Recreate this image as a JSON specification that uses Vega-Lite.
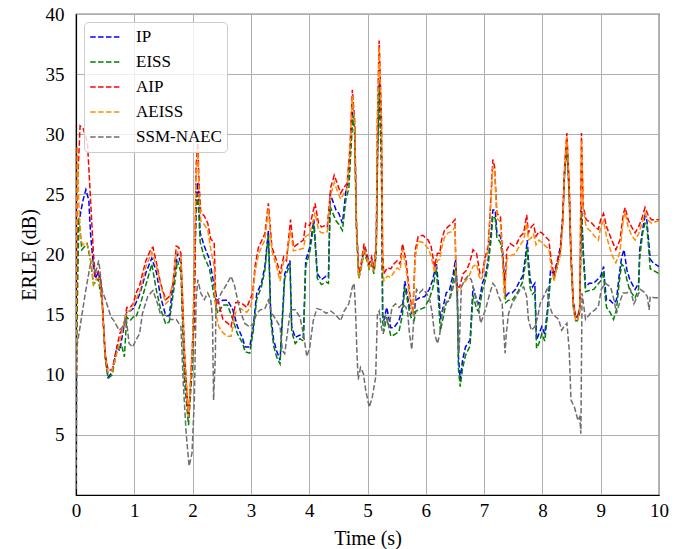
{
"$schema":"https://vega.github.io/schema/vega-lite/v6.json",
"width":583,"height":481,
"autosize":{"type":"none"},
"padding":{"left":76,"top":14,"right":20,"bottom":54},
"background":"white",
"data":{"values":[
{"s":"IP","t":0,"v":10},{"s":"IP","t":0.03,"v":22},{"s":"IP","t":0.08,"v":23.5},{"s":"IP","t":0.12,"v":24.5},{"s":"IP","t":0.17,"v":25.4},{"s":"IP","t":0.22,"v":24.5},{"s":"IP","t":0.25,"v":21.7},{"s":"IP","t":0.3,"v":19},{"s":"IP","t":0.33,"v":18},{"s":"IP","t":0.38,"v":18.5},{"s":"IP","t":0.42,"v":17.8},{"s":"IP","t":0.45,"v":16},{"s":"IP","t":0.5,"v":11.5},{"s":"IP","t":0.55,"v":9.8},{"s":"IP","t":0.62,"v":10.2},{"s":"IP","t":0.7,"v":12.3},{"s":"IP","t":0.75,"v":12},{"s":"IP","t":0.8,"v":13.4},{"s":"IP","t":0.87,"v":15.2},{"s":"IP","t":0.93,"v":15.3},{"s":"IP","t":0.98,"v":15.5},{"s":"IP","t":1.03,"v":16},{"s":"IP","t":1.1,"v":16.8},{"s":"IP","t":1.2,"v":18.5},{"s":"IP","t":1.3,"v":19.7},{"s":"IP","t":1.38,"v":18.5},{"s":"IP","t":1.45,"v":16.5},{"s":"IP","t":1.54,"v":14.9},{"s":"IP","t":1.6,"v":14.9},{"s":"IP","t":1.69,"v":18.5},{"s":"IP","t":1.74,"v":20.1},{"s":"IP","t":1.8,"v":19.3},{"s":"IP","t":1.86,"v":10.7},{"s":"IP","t":1.93,"v":6.5},{"s":"IP","t":2,"v":11.8},{"s":"IP","t":2.06,"v":24.6},{"s":"IP","t":2.09,"v":26},{"s":"IP","t":2.13,"v":21.8},{"s":"IP","t":2.2,"v":20.7},{"s":"IP","t":2.29,"v":19.6},{"s":"IP","t":2.37,"v":17.4},{"s":"IP","t":2.43,"v":16},{"s":"IP","t":2.52,"v":16.2},{"s":"IP","t":2.6,"v":16.2},{"s":"IP","t":2.69,"v":15.4},{"s":"IP","t":2.77,"v":14},{"s":"IP","t":2.86,"v":13},{"s":"IP","t":2.9,"v":12.3},{"s":"IP","t":2.98,"v":12.3},{"s":"IP","t":3.04,"v":14},{"s":"IP","t":3.1,"v":16.75},{"s":"IP","t":3.18,"v":17.6},{"s":"IP","t":3.24,"v":19},{"s":"IP","t":3.3,"v":22},{"s":"IP","t":3.34,"v":15.1},{"s":"IP","t":3.39,"v":12.9},{"s":"IP","t":3.44,"v":12},{"s":"IP","t":3.5,"v":11.2},{"s":"IP","t":3.58,"v":18.4},{"s":"IP","t":3.67,"v":19.5},{"s":"IP","t":3.7,"v":14},{"s":"IP","t":3.76,"v":13.1},{"s":"IP","t":3.84,"v":13.3},{"s":"IP","t":3.9,"v":13.1},{"s":"IP","t":3.94,"v":19.5},{"s":"IP","t":4.01,"v":20.6},{"s":"IP","t":4.08,"v":22.9},{"s":"IP","t":4.14,"v":18.4},{"s":"IP","t":4.21,"v":17.9},{"s":"IP","t":4.29,"v":18.2},{"s":"IP","t":4.33,"v":18.1},{"s":"IP","t":4.36,"v":25},{"s":"IP","t":4.4,"v":24.5},{"s":"IP","t":4.46,"v":23.7},{"s":"IP","t":4.51,"v":23.4},{"s":"IP","t":4.57,"v":22.6},{"s":"IP","t":4.63,"v":25.3},{"s":"IP","t":4.68,"v":26.2},{"s":"IP","t":4.71,"v":28.9},{"s":"IP","t":4.75,"v":32.3},{"s":"IP","t":4.78,"v":30.6},{"s":"IP","t":4.81,"v":22.5},{"s":"IP","t":4.85,"v":18.3},{"s":"IP","t":4.89,"v":19},{"s":"IP","t":4.94,"v":20.5},{"s":"IP","t":4.99,"v":19.8},{"s":"IP","t":5.03,"v":19},{"s":"IP","t":5.07,"v":19.5},{"s":"IP","t":5.11,"v":18.7},{"s":"IP","t":5.15,"v":20.5},{"s":"IP","t":5.17,"v":28},{"s":"IP","t":5.2,"v":34.5},{"s":"IP","t":5.24,"v":28},{"s":"IP","t":5.26,"v":15},{"s":"IP","t":5.28,"v":14.5},{"s":"IP","t":5.33,"v":15.6},{"s":"IP","t":5.4,"v":13.9},{"s":"IP","t":5.45,"v":13.9},{"s":"IP","t":5.54,"v":14.5},{"s":"IP","t":5.6,"v":15.6},{"s":"IP","t":5.64,"v":17.8},{"s":"IP","t":5.68,"v":16.7},{"s":"IP","t":5.72,"v":15.6},{"s":"IP","t":5.76,"v":15.1},{"s":"IP","t":5.8,"v":15.3},{"s":"IP","t":5.83,"v":16.2},{"s":"IP","t":5.89,"v":16.4},{"s":"IP","t":5.98,"v":16.5},{"s":"IP","t":6.06,"v":17.1},{"s":"IP","t":6.12,"v":17.9},{"s":"IP","t":6.18,"v":19.3},{"s":"IP","t":6.22,"v":17.3},{"s":"IP","t":6.25,"v":14.6},{"s":"IP","t":6.3,"v":15.7},{"s":"IP","t":6.35,"v":16.8},{"s":"IP","t":6.41,"v":17.1},{"s":"IP","t":6.47,"v":18.4},{"s":"IP","t":6.51,"v":19.6},{"s":"IP","t":6.54,"v":17.3},{"s":"IP","t":6.56,"v":11.5},{"s":"IP","t":6.59,"v":9.6},{"s":"IP","t":6.63,"v":11.2},{"s":"IP","t":6.68,"v":12.3},{"s":"IP","t":6.72,"v":12.6},{"s":"IP","t":6.76,"v":12.9},{"s":"IP","t":6.81,"v":17.3},{"s":"IP","t":6.87,"v":16.2},{"s":"IP","t":6.91,"v":15.9},{"s":"IP","t":6.97,"v":17.6},{"s":"IP","t":7.03,"v":18.4},{"s":"IP","t":7.07,"v":19.6},{"s":"IP","t":7.12,"v":21.8},{"s":"IP","t":7.15,"v":23.7},{"s":"IP","t":7.19,"v":23.7},{"s":"IP","t":7.22,"v":21.8},{"s":"IP","t":7.28,"v":21.5},{"s":"IP","t":7.32,"v":20.1},{"s":"IP","t":7.37,"v":16.5},{"s":"IP","t":7.42,"v":16.8},{"s":"IP","t":7.48,"v":16.8},{"s":"IP","t":7.54,"v":17.1},{"s":"IP","t":7.59,"v":17.6},{"s":"IP","t":7.66,"v":18.2},{"s":"IP","t":7.71,"v":19.8},{"s":"IP","t":7.74,"v":21.2},{"s":"IP","t":7.76,"v":19.6},{"s":"IP","t":7.79,"v":17.9},{"s":"IP","t":7.83,"v":17.3},{"s":"IP","t":7.87,"v":17.6},{"s":"IP","t":7.9,"v":12.9},{"s":"IP","t":7.94,"v":13.4},{"s":"IP","t":7.99,"v":14},{"s":"IP","t":8.04,"v":13.4},{"s":"IP","t":8.08,"v":15.1},{"s":"IP","t":8.14,"v":18.7},{"s":"IP","t":8.19,"v":18.4},{"s":"IP","t":8.25,"v":19.3},{"s":"IP","t":8.31,"v":20.7},{"s":"IP","t":8.35,"v":23.2},{"s":"IP","t":8.38,"v":26.8},{"s":"IP","t":8.42,"v":29.3},{"s":"IP","t":8.46,"v":25.1},{"s":"IP","t":8.49,"v":19.8},{"s":"IP","t":8.53,"v":15.9},{"s":"IP","t":8.57,"v":14.8},{"s":"IP","t":8.6,"v":14.8},{"s":"IP","t":8.64,"v":15.5},{"s":"IP","t":8.67,"v":24},{"s":"IP","t":8.7,"v":20.4},{"s":"IP","t":8.74,"v":17.3},{"s":"IP","t":8.8,"v":17.6},{"s":"IP","t":8.88,"v":17.6},{"s":"IP","t":9,"v":18.2},{"s":"IP","t":9.05,"v":19},{"s":"IP","t":9.07,"v":17.6},{"s":"IP","t":9.1,"v":16.2},{"s":"IP","t":9.16,"v":16.2},{"s":"IP","t":9.22,"v":15.9},{"s":"IP","t":9.27,"v":16.2},{"s":"IP","t":9.32,"v":18.4},{"s":"IP","t":9.36,"v":19.8},{"s":"IP","t":9.4,"v":20.4},{"s":"IP","t":9.45,"v":18.7},{"s":"IP","t":9.5,"v":17.9},{"s":"IP","t":9.59,"v":17.1},{"s":"IP","t":9.65,"v":17.6},{"s":"IP","t":9.67,"v":20.4},{"s":"IP","t":9.72,"v":22.1},{"s":"IP","t":9.76,"v":23.2},{"s":"IP","t":9.79,"v":22.9},{"s":"IP","t":9.85,"v":19.6},{"s":"IP","t":9.9,"v":19.3},{"s":"IP","t":10,"v":19},
{"s":"EISS","t":0,"v":10},{"s":"EISS","t":0.05,"v":23.1},{"s":"EISS","t":0.1,"v":20.4},{"s":"EISS","t":0.19,"v":20.9},{"s":"EISS","t":0.25,"v":19.5},{"s":"EISS","t":0.3,"v":17.5},{"s":"EISS","t":0.38,"v":18},{"s":"EISS","t":0.45,"v":16},{"s":"EISS","t":0.5,"v":11.5},{"s":"EISS","t":0.55,"v":9.7},{"s":"EISS","t":0.62,"v":10},{"s":"EISS","t":0.7,"v":12},{"s":"EISS","t":0.78,"v":12.5},{"s":"EISS","t":0.83,"v":11.5},{"s":"EISS","t":0.87,"v":14.8},{"s":"EISS","t":0.93,"v":14.5},{"s":"EISS","t":0.98,"v":14.8},{"s":"EISS","t":1.03,"v":14.8},{"s":"EISS","t":1.1,"v":15.8},{"s":"EISS","t":1.2,"v":17.5},{"s":"EISS","t":1.3,"v":19.2},{"s":"EISS","t":1.38,"v":17},{"s":"EISS","t":1.45,"v":15.5},{"s":"EISS","t":1.54,"v":14.2},{"s":"EISS","t":1.6,"v":14.4},{"s":"EISS","t":1.69,"v":17.5},{"s":"EISS","t":1.74,"v":19.5},{"s":"EISS","t":1.8,"v":18.5},{"s":"EISS","t":1.86,"v":9.5},{"s":"EISS","t":1.93,"v":5.8},{"s":"EISS","t":2,"v":11},{"s":"EISS","t":2.06,"v":23.5},{"s":"EISS","t":2.09,"v":25},{"s":"EISS","t":2.13,"v":21},{"s":"EISS","t":2.2,"v":19.8},{"s":"EISS","t":2.29,"v":18.8},{"s":"EISS","t":2.37,"v":16.5},{"s":"EISS","t":2.43,"v":15.1},{"s":"EISS","t":2.52,"v":15.8},{"s":"EISS","t":2.6,"v":15.8},{"s":"EISS","t":2.69,"v":14.6},{"s":"EISS","t":2.77,"v":13.4},{"s":"EISS","t":2.86,"v":12.6},{"s":"EISS","t":2.9,"v":11.9},{"s":"EISS","t":2.98,"v":11.8},{"s":"EISS","t":3.04,"v":13.6},{"s":"EISS","t":3.1,"v":16.3},{"s":"EISS","t":3.18,"v":17.3},{"s":"EISS","t":3.24,"v":18.7},{"s":"EISS","t":3.3,"v":21.7},{"s":"EISS","t":3.34,"v":14.6},{"s":"EISS","t":3.39,"v":12.4},{"s":"EISS","t":3.44,"v":11.5},{"s":"EISS","t":3.5,"v":10.9},{"s":"EISS","t":3.58,"v":18},{"s":"EISS","t":3.67,"v":19.2},{"s":"EISS","t":3.7,"v":13.6},{"s":"EISS","t":3.76,"v":12.6},{"s":"EISS","t":3.84,"v":13},{"s":"EISS","t":3.9,"v":12.8},{"s":"EISS","t":3.94,"v":19},{"s":"EISS","t":4.01,"v":20.2},{"s":"EISS","t":4.08,"v":22.5},{"s":"EISS","t":4.14,"v":18},{"s":"EISS","t":4.21,"v":17.5},{"s":"EISS","t":4.29,"v":17.7},{"s":"EISS","t":4.33,"v":17.6},{"s":"EISS","t":4.36,"v":24},{"s":"EISS","t":4.4,"v":23.5},{"s":"EISS","t":4.46,"v":22.8},{"s":"EISS","t":4.51,"v":22.5},{"s":"EISS","t":4.57,"v":22},{"s":"EISS","t":4.63,"v":24.6},{"s":"EISS","t":4.68,"v":25.5},{"s":"EISS","t":4.71,"v":28.2},{"s":"EISS","t":4.75,"v":31.6},{"s":"EISS","t":4.78,"v":30},{"s":"EISS","t":4.81,"v":22},{"s":"EISS","t":4.85,"v":18},{"s":"EISS","t":4.89,"v":18.8},{"s":"EISS","t":4.94,"v":20.2},{"s":"EISS","t":4.99,"v":19.5},{"s":"EISS","t":5.03,"v":18.8},{"s":"EISS","t":5.07,"v":19.2},{"s":"EISS","t":5.11,"v":18.4},{"s":"EISS","t":5.15,"v":20},{"s":"EISS","t":5.17,"v":27},{"s":"EISS","t":5.2,"v":34},{"s":"EISS","t":5.24,"v":27},{"s":"EISS","t":5.26,"v":14.5},{"s":"EISS","t":5.28,"v":13.6},{"s":"EISS","t":5.33,"v":14.8},{"s":"EISS","t":5.4,"v":13.2},{"s":"EISS","t":5.45,"v":13.3},{"s":"EISS","t":5.54,"v":13.6},{"s":"EISS","t":5.6,"v":15},{"s":"EISS","t":5.64,"v":17.3},{"s":"EISS","t":5.68,"v":16.3},{"s":"EISS","t":5.72,"v":15.2},{"s":"EISS","t":5.76,"v":14.6},{"s":"EISS","t":5.8,"v":14.5},{"s":"EISS","t":5.83,"v":15.3},{"s":"EISS","t":5.89,"v":15.4},{"s":"EISS","t":5.98,"v":15.6},{"s":"EISS","t":6.06,"v":16.3},{"s":"EISS","t":6.12,"v":17.2},{"s":"EISS","t":6.18,"v":18.8},{"s":"EISS","t":6.22,"v":16},{"s":"EISS","t":6.25,"v":13.6},{"s":"EISS","t":6.3,"v":14.8},{"s":"EISS","t":6.35,"v":16},{"s":"EISS","t":6.41,"v":16.4},{"s":"EISS","t":6.47,"v":17.8},{"s":"EISS","t":6.51,"v":19},{"s":"EISS","t":6.54,"v":16.5},{"s":"EISS","t":6.56,"v":10.5},{"s":"EISS","t":6.59,"v":9},{"s":"EISS","t":6.63,"v":10.5},{"s":"EISS","t":6.68,"v":11.6},{"s":"EISS","t":6.72,"v":12},{"s":"EISS","t":6.76,"v":12.4},{"s":"EISS","t":6.81,"v":16.6},{"s":"EISS","t":6.87,"v":15.5},{"s":"EISS","t":6.91,"v":15.2},{"s":"EISS","t":6.97,"v":17},{"s":"EISS","t":7.03,"v":18},{"s":"EISS","t":7.07,"v":19.2},{"s":"EISS","t":7.12,"v":21.2},{"s":"EISS","t":7.15,"v":23.2},{"s":"EISS","t":7.19,"v":23},{"s":"EISS","t":7.22,"v":21.4},{"s":"EISS","t":7.28,"v":21},{"s":"EISS","t":7.32,"v":19.6},{"s":"EISS","t":7.37,"v":16},{"s":"EISS","t":7.42,"v":16.2},{"s":"EISS","t":7.48,"v":16.2},{"s":"EISS","t":7.54,"v":16.6},{"s":"EISS","t":7.59,"v":17},{"s":"EISS","t":7.66,"v":17.7},{"s":"EISS","t":7.71,"v":19.3},{"s":"EISS","t":7.74,"v":20.6},{"s":"EISS","t":7.76,"v":18.8},{"s":"EISS","t":7.79,"v":17.2},{"s":"EISS","t":7.83,"v":16.7},{"s":"EISS","t":7.87,"v":16.9},{"s":"EISS","t":7.9,"v":12.2},{"s":"EISS","t":7.94,"v":12.6},{"s":"EISS","t":7.99,"v":13.4},{"s":"EISS","t":8.04,"v":12.8},{"s":"EISS","t":8.08,"v":14.6},{"s":"EISS","t":8.14,"v":18},{"s":"EISS","t":8.19,"v":17.9},{"s":"EISS","t":8.25,"v":18.9},{"s":"EISS","t":8.31,"v":20.3},{"s":"EISS","t":8.35,"v":22.8},{"s":"EISS","t":8.38,"v":26.5},{"s":"EISS","t":8.42,"v":29},{"s":"EISS","t":8.46,"v":24.8},{"s":"EISS","t":8.49,"v":19.5},{"s":"EISS","t":8.53,"v":15.6},{"s":"EISS","t":8.57,"v":14.5},{"s":"EISS","t":8.6,"v":14.5},{"s":"EISS","t":8.64,"v":15.2},{"s":"EISS","t":8.67,"v":23.5},{"s":"EISS","t":8.7,"v":19.8},{"s":"EISS","t":8.74,"v":16.9},{"s":"EISS","t":8.8,"v":17},{"s":"EISS","t":8.88,"v":17.1},{"s":"EISS","t":9,"v":17.8},{"s":"EISS","t":9.05,"v":18.6},{"s":"EISS","t":9.07,"v":16.8},{"s":"EISS","t":9.1,"v":15.6},{"s":"EISS","t":9.16,"v":15.2},{"s":"EISS","t":9.22,"v":14.6},{"s":"EISS","t":9.27,"v":15.4},{"s":"EISS","t":9.32,"v":17.8},{"s":"EISS","t":9.36,"v":19.2},{"s":"EISS","t":9.4,"v":19},{"s":"EISS","t":9.45,"v":17.9},{"s":"EISS","t":9.5,"v":17},{"s":"EISS","t":9.59,"v":16.4},{"s":"EISS","t":9.65,"v":17.1},{"s":"EISS","t":9.67,"v":19.8},{"s":"EISS","t":9.72,"v":21.8},{"s":"EISS","t":9.76,"v":22.6},{"s":"EISS","t":9.79,"v":22.5},{"s":"EISS","t":9.85,"v":18.8},{"s":"EISS","t":9.9,"v":18.7},{"s":"EISS","t":10,"v":18.4},
{"s":"AIP","t":0,"v":10},{"s":"AIP","t":0.02,"v":25},{"s":"AIP","t":0.07,"v":30.7},{"s":"AIP","t":0.12,"v":30.5},{"s":"AIP","t":0.17,"v":29.8},{"s":"AIP","t":0.2,"v":29},{"s":"AIP","t":0.25,"v":24.5},{"s":"AIP","t":0.3,"v":20},{"s":"AIP","t":0.33,"v":18.3},{"s":"AIP","t":0.38,"v":18.6},{"s":"AIP","t":0.42,"v":17.9},{"s":"AIP","t":0.45,"v":16.2},{"s":"AIP","t":0.5,"v":11.8},{"s":"AIP","t":0.55,"v":10.4},{"s":"AIP","t":0.62,"v":10.4},{"s":"AIP","t":0.68,"v":11.8},{"s":"AIP","t":0.75,"v":13.4},{"s":"AIP","t":0.82,"v":14},{"s":"AIP","t":0.87,"v":15.6},{"s":"AIP","t":0.93,"v":15.6},{"s":"AIP","t":0.98,"v":15.9},{"s":"AIP","t":1.03,"v":16.8},{"s":"AIP","t":1.09,"v":17.4},{"s":"AIP","t":1.14,"v":18.4},{"s":"AIP","t":1.2,"v":19.5},{"s":"AIP","t":1.29,"v":20.5},{"s":"AIP","t":1.32,"v":20.6},{"s":"AIP","t":1.38,"v":19.3},{"s":"AIP","t":1.45,"v":17.6},{"s":"AIP","t":1.54,"v":16.25},{"s":"AIP","t":1.6,"v":16.5},{"s":"AIP","t":1.66,"v":17.4},{"s":"AIP","t":1.72,"v":20.7},{"s":"AIP","t":1.76,"v":20.6},{"s":"AIP","t":1.8,"v":20.1},{"s":"AIP","t":1.83,"v":16.25},{"s":"AIP","t":1.86,"v":12.1},{"s":"AIP","t":1.92,"v":7.1},{"s":"AIP","t":1.94,"v":6.8},{"s":"AIP","t":2,"v":12.9},{"s":"AIP","t":2.03,"v":14},{"s":"AIP","t":2.06,"v":27.4},{"s":"AIP","t":2.09,"v":29.3},{"s":"AIP","t":2.11,"v":26},{"s":"AIP","t":2.14,"v":23.5},{"s":"AIP","t":2.2,"v":23.2},{"s":"AIP","t":2.26,"v":22.6},{"s":"AIP","t":2.31,"v":21.3},{"s":"AIP","t":2.37,"v":21},{"s":"AIP","t":2.4,"v":15.7},{"s":"AIP","t":2.43,"v":16.3},{"s":"AIP","t":2.52,"v":14.6},{"s":"AIP","t":2.6,"v":14.3},{"s":"AIP","t":2.66,"v":14},{"s":"AIP","t":2.74,"v":16},{"s":"AIP","t":2.83,"v":16},{"s":"AIP","t":2.93,"v":15.6},{"s":"AIP","t":2.98,"v":16.2},{"s":"AIP","t":3.03,"v":16.75},{"s":"AIP","t":3.07,"v":19},{"s":"AIP","t":3.13,"v":20.6},{"s":"AIP","t":3.18,"v":21.1},{"s":"AIP","t":3.24,"v":21.75},{"s":"AIP","t":3.3,"v":24.25},{"s":"AIP","t":3.36,"v":20.6},{"s":"AIP","t":3.44,"v":19.5},{"s":"AIP","t":3.5,"v":18.4},{"s":"AIP","t":3.56,"v":19.8},{"s":"AIP","t":3.61,"v":19.5},{"s":"AIP","t":3.68,"v":22.9},{"s":"AIP","t":3.73,"v":20.6},{"s":"AIP","t":3.81,"v":20.9},{"s":"AIP","t":3.9,"v":21.2},{"s":"AIP","t":3.94,"v":22.6},{"s":"AIP","t":4.01,"v":22.4},{"s":"AIP","t":4.1,"v":24.25},{"s":"AIP","t":4.16,"v":22.6},{"s":"AIP","t":4.21,"v":22.3},{"s":"AIP","t":4.27,"v":22.4},{"s":"AIP","t":4.31,"v":22.3},{"s":"AIP","t":4.37,"v":25.6},{"s":"AIP","t":4.43,"v":26.6},{"s":"AIP","t":4.48,"v":25.9},{"s":"AIP","t":4.54,"v":25.1},{"s":"AIP","t":4.6,"v":25.6},{"s":"AIP","t":4.65,"v":25.9},{"s":"AIP","t":4.7,"v":28.9},{"s":"AIP","t":4.74,"v":33.7},{"s":"AIP","t":4.78,"v":31.2},{"s":"AIP","t":4.81,"v":22.8},{"s":"AIP","t":4.85,"v":18.4},{"s":"AIP","t":4.89,"v":19.2},{"s":"AIP","t":4.94,"v":20.9},{"s":"AIP","t":4.99,"v":20.1},{"s":"AIP","t":5.03,"v":19.2},{"s":"AIP","t":5.07,"v":19.8},{"s":"AIP","t":5.11,"v":18.9},{"s":"AIP","t":5.15,"v":20.9},{"s":"AIP","t":5.17,"v":31.2},{"s":"AIP","t":5.2,"v":37.8},{"s":"AIP","t":5.24,"v":31.2},{"s":"AIP","t":5.26,"v":20.1},{"s":"AIP","t":5.28,"v":18.4},{"s":"AIP","t":5.34,"v":18.9},{"s":"AIP","t":5.4,"v":18.8},{"s":"AIP","t":5.45,"v":19.2},{"s":"AIP","t":5.51,"v":19.5},{"s":"AIP","t":5.56,"v":19.2},{"s":"AIP","t":5.6,"v":20.9},{"s":"AIP","t":5.66,"v":19.5},{"s":"AIP","t":5.71,"v":17.3},{"s":"AIP","t":5.75,"v":15.8},{"s":"AIP","t":5.78,"v":15.4},{"s":"AIP","t":5.82,"v":20.4},{"s":"AIP","t":5.87,"v":21.5},{"s":"AIP","t":5.95,"v":21.6},{"s":"AIP","t":6.04,"v":21.2},{"s":"AIP","t":6.09,"v":20.7},{"s":"AIP","t":6.15,"v":19},{"s":"AIP","t":6.2,"v":20.1},{"s":"AIP","t":6.24,"v":20.1},{"s":"AIP","t":6.27,"v":21.2},{"s":"AIP","t":6.32,"v":22},{"s":"AIP","t":6.38,"v":22.3},{"s":"AIP","t":6.45,"v":22.6},{"s":"AIP","t":6.5,"v":22.9},{"s":"AIP","t":6.52,"v":17.9},{"s":"AIP","t":6.55,"v":17.3},{"s":"AIP","t":6.58,"v":17.3},{"s":"AIP","t":6.64,"v":18.4},{"s":"AIP","t":6.7,"v":18.7},{"s":"AIP","t":6.75,"v":19.3},{"s":"AIP","t":6.81,"v":20.4},{"s":"AIP","t":6.87,"v":20.1},{"s":"AIP","t":6.93,"v":18.4},{"s":"AIP","t":6.97,"v":18.4},{"s":"AIP","t":7.01,"v":19.6},{"s":"AIP","t":7.07,"v":20.7},{"s":"AIP","t":7.1,"v":23.2},{"s":"AIP","t":7.15,"v":27.9},{"s":"AIP","t":7.18,"v":27.3},{"s":"AIP","t":7.22,"v":23.4},{"s":"AIP","t":7.28,"v":23.2},{"s":"AIP","t":7.32,"v":19.8},{"s":"AIP","t":7.35,"v":16.8},{"s":"AIP","t":7.39,"v":20.4},{"s":"AIP","t":7.45,"v":20.9},{"s":"AIP","t":7.51,"v":20.7},{"s":"AIP","t":7.56,"v":20.9},{"s":"AIP","t":7.62,"v":21.5},{"s":"AIP","t":7.68,"v":21.8},{"s":"AIP","t":7.73,"v":23.3},{"s":"AIP","t":7.76,"v":21.8},{"s":"AIP","t":7.81,"v":22.3},{"s":"AIP","t":7.85,"v":22.5},{"s":"AIP","t":7.89,"v":21.5},{"s":"AIP","t":7.94,"v":21.9},{"s":"AIP","t":7.99,"v":21.8},{"s":"AIP","t":8.05,"v":21.5},{"s":"AIP","t":8.11,"v":21.2},{"s":"AIP","t":8.15,"v":19.6},{"s":"AIP","t":8.2,"v":18.2},{"s":"AIP","t":8.25,"v":19.3},{"s":"AIP","t":8.31,"v":20.4},{"s":"AIP","t":8.35,"v":23.2},{"s":"AIP","t":8.38,"v":27.3},{"s":"AIP","t":8.42,"v":30.1},{"s":"AIP","t":8.46,"v":25.9},{"s":"AIP","t":8.49,"v":20.4},{"s":"AIP","t":8.53,"v":16.2},{"s":"AIP","t":8.57,"v":14.8},{"s":"AIP","t":8.6,"v":14.8},{"s":"AIP","t":8.64,"v":15.5},{"s":"AIP","t":8.67,"v":30.1},{"s":"AIP","t":8.7,"v":24},{"s":"AIP","t":8.75,"v":22.9},{"s":"AIP","t":8.85,"v":22.6},{"s":"AIP","t":8.9,"v":22.3},{"s":"AIP","t":8.96,"v":22.1},{"s":"AIP","t":9,"v":22.9},{"s":"AIP","t":9.05,"v":23.4},{"s":"AIP","t":9.1,"v":22.3},{"s":"AIP","t":9.19,"v":21.2},{"s":"AIP","t":9.26,"v":20.4},{"s":"AIP","t":9.33,"v":21.2},{"s":"AIP","t":9.39,"v":23.4},{"s":"AIP","t":9.42,"v":23.9},{"s":"AIP","t":9.47,"v":22.9},{"s":"AIP","t":9.53,"v":22.3},{"s":"AIP","t":9.59,"v":21.8},{"s":"AIP","t":9.65,"v":22.3},{"s":"AIP","t":9.7,"v":22.9},{"s":"AIP","t":9.76,"v":23.9},{"s":"AIP","t":9.82,"v":23.2},{"s":"AIP","t":9.87,"v":22.9},{"s":"AIP","t":9.93,"v":22.9},{"s":"AIP","t":10,"v":22.9},
{"s":"AEISS","t":0,"v":10},{"s":"AEISS","t":0.02,"v":29},{"s":"AEISS","t":0.05,"v":24},{"s":"AEISS","t":0.08,"v":21.2},{"s":"AEISS","t":0.12,"v":20.8},{"s":"AEISS","t":0.17,"v":21},{"s":"AEISS","t":0.22,"v":20.5},{"s":"AEISS","t":0.27,"v":19},{"s":"AEISS","t":0.3,"v":17.5},{"s":"AEISS","t":0.35,"v":18},{"s":"AEISS","t":0.4,"v":18},{"s":"AEISS","t":0.45,"v":16},{"s":"AEISS","t":0.5,"v":11.5},{"s":"AEISS","t":0.55,"v":10.2},{"s":"AEISS","t":0.62,"v":10.3},{"s":"AEISS","t":0.7,"v":11.8},{"s":"AEISS","t":0.8,"v":13.8},{"s":"AEISS","t":0.87,"v":15.3},{"s":"AEISS","t":0.93,"v":15.3},{"s":"AEISS","t":0.98,"v":15.8},{"s":"AEISS","t":1.03,"v":16.3},{"s":"AEISS","t":1.1,"v":17},{"s":"AEISS","t":1.2,"v":19},{"s":"AEISS","t":1.3,"v":20.2},{"s":"AEISS","t":1.38,"v":19},{"s":"AEISS","t":1.45,"v":17.5},{"s":"AEISS","t":1.54,"v":15.9},{"s":"AEISS","t":1.6,"v":16.2},{"s":"AEISS","t":1.69,"v":18.5},{"s":"AEISS","t":1.72,"v":20.3},{"s":"AEISS","t":1.8,"v":19.8},{"s":"AEISS","t":1.86,"v":11.5},{"s":"AEISS","t":1.93,"v":6.5},{"s":"AEISS","t":2,"v":12.5},{"s":"AEISS","t":2.06,"v":26.5},{"s":"AEISS","t":2.09,"v":28.5},{"s":"AEISS","t":2.11,"v":25},{"s":"AEISS","t":2.14,"v":22.8},{"s":"AEISS","t":2.2,"v":22.5},{"s":"AEISS","t":2.26,"v":22},{"s":"AEISS","t":2.31,"v":20.5},{"s":"AEISS","t":2.37,"v":19},{"s":"AEISS","t":2.4,"v":15},{"s":"AEISS","t":2.45,"v":14},{"s":"AEISS","t":2.52,"v":13.5},{"s":"AEISS","t":2.6,"v":13.2},{"s":"AEISS","t":2.66,"v":13.2},{"s":"AEISS","t":2.74,"v":15.2},{"s":"AEISS","t":2.83,"v":15.5},{"s":"AEISS","t":2.93,"v":15.2},{"s":"AEISS","t":2.98,"v":15.5},{"s":"AEISS","t":3.03,"v":16.3},{"s":"AEISS","t":3.07,"v":18.5},{"s":"AEISS","t":3.13,"v":20},{"s":"AEISS","t":3.18,"v":20.6},{"s":"AEISS","t":3.24,"v":21.2},{"s":"AEISS","t":3.3,"v":23.8},{"s":"AEISS","t":3.36,"v":20.3},{"s":"AEISS","t":3.44,"v":19},{"s":"AEISS","t":3.5,"v":17.8},{"s":"AEISS","t":3.56,"v":19.4},{"s":"AEISS","t":3.61,"v":19.6},{"s":"AEISS","t":3.68,"v":22},{"s":"AEISS","t":3.73,"v":20.3},{"s":"AEISS","t":3.81,"v":20.4},{"s":"AEISS","t":3.9,"v":20.5},{"s":"AEISS","t":3.94,"v":21.5},{"s":"AEISS","t":4.01,"v":21.7},{"s":"AEISS","t":4.1,"v":23.5},{"s":"AEISS","t":4.16,"v":22},{"s":"AEISS","t":4.21,"v":21.8},{"s":"AEISS","t":4.27,"v":21.8},{"s":"AEISS","t":4.31,"v":21.9},{"s":"AEISS","t":4.37,"v":25},{"s":"AEISS","t":4.43,"v":26},{"s":"AEISS","t":4.48,"v":25.3},{"s":"AEISS","t":4.54,"v":24.6},{"s":"AEISS","t":4.6,"v":25.1},{"s":"AEISS","t":4.65,"v":25.5},{"s":"AEISS","t":4.7,"v":28.5},{"s":"AEISS","t":4.74,"v":33.2},{"s":"AEISS","t":4.78,"v":30.8},{"s":"AEISS","t":4.81,"v":22.4},{"s":"AEISS","t":4.85,"v":18.1},{"s":"AEISS","t":4.89,"v":18.9},{"s":"AEISS","t":4.94,"v":20.5},{"s":"AEISS","t":4.99,"v":19.7},{"s":"AEISS","t":5.03,"v":18.9},{"s":"AEISS","t":5.07,"v":19.4},{"s":"AEISS","t":5.11,"v":18.6},{"s":"AEISS","t":5.15,"v":20.5},{"s":"AEISS","t":5.17,"v":30.8},{"s":"AEISS","t":5.2,"v":37.3},{"s":"AEISS","t":5.24,"v":30.8},{"s":"AEISS","t":5.26,"v":19.6},{"s":"AEISS","t":5.28,"v":17.8},{"s":"AEISS","t":5.34,"v":18.2},{"s":"AEISS","t":5.4,"v":18.1},{"s":"AEISS","t":5.45,"v":18.5},{"s":"AEISS","t":5.51,"v":18.9},{"s":"AEISS","t":5.56,"v":18.7},{"s":"AEISS","t":5.6,"v":20.4},{"s":"AEISS","t":5.66,"v":18.9},{"s":"AEISS","t":5.71,"v":16.8},{"s":"AEISS","t":5.75,"v":15.5},{"s":"AEISS","t":5.78,"v":15},{"s":"AEISS","t":5.82,"v":19.8},{"s":"AEISS","t":5.87,"v":21.1},{"s":"AEISS","t":5.95,"v":21},{"s":"AEISS","t":6.04,"v":20.5},{"s":"AEISS","t":6.09,"v":19.9},{"s":"AEISS","t":6.15,"v":18.5},{"s":"AEISS","t":6.2,"v":19.5},{"s":"AEISS","t":6.24,"v":19.6},{"s":"AEISS","t":6.27,"v":20.5},{"s":"AEISS","t":6.32,"v":21.4},{"s":"AEISS","t":6.38,"v":21.8},{"s":"AEISS","t":6.45,"v":21.9},{"s":"AEISS","t":6.5,"v":22.3},{"s":"AEISS","t":6.52,"v":17.5},{"s":"AEISS","t":6.55,"v":17},{"s":"AEISS","t":6.58,"v":17},{"s":"AEISS","t":6.64,"v":17.6},{"s":"AEISS","t":6.7,"v":17.9},{"s":"AEISS","t":6.75,"v":18.3},{"s":"AEISS","t":6.81,"v":19},{"s":"AEISS","t":6.87,"v":19.2},{"s":"AEISS","t":6.93,"v":17.9},{"s":"AEISS","t":6.97,"v":18.1},{"s":"AEISS","t":7.01,"v":19.3},{"s":"AEISS","t":7.07,"v":20.3},{"s":"AEISS","t":7.1,"v":22.8},{"s":"AEISS","t":7.15,"v":27.3},{"s":"AEISS","t":7.18,"v":26.8},{"s":"AEISS","t":7.22,"v":23},{"s":"AEISS","t":7.28,"v":22.7},{"s":"AEISS","t":7.32,"v":19.3},{"s":"AEISS","t":7.35,"v":16.3},{"s":"AEISS","t":7.39,"v":19.6},{"s":"AEISS","t":7.45,"v":19.9},{"s":"AEISS","t":7.51,"v":20},{"s":"AEISS","t":7.56,"v":20.3},{"s":"AEISS","t":7.62,"v":20.8},{"s":"AEISS","t":7.68,"v":21.2},{"s":"AEISS","t":7.73,"v":22.6},{"s":"AEISS","t":7.76,"v":21.2},{"s":"AEISS","t":7.81,"v":21.4},{"s":"AEISS","t":7.85,"v":21.7},{"s":"AEISS","t":7.89,"v":20.8},{"s":"AEISS","t":7.94,"v":21.2},{"s":"AEISS","t":7.99,"v":21},{"s":"AEISS","t":8.05,"v":20.7},{"s":"AEISS","t":8.11,"v":20.5},{"s":"AEISS","t":8.15,"v":19},{"s":"AEISS","t":8.2,"v":17.8},{"s":"AEISS","t":8.25,"v":18.9},{"s":"AEISS","t":8.31,"v":20},{"s":"AEISS","t":8.35,"v":22.7},{"s":"AEISS","t":8.38,"v":27},{"s":"AEISS","t":8.42,"v":29.8},{"s":"AEISS","t":8.46,"v":25.5},{"s":"AEISS","t":8.49,"v":20},{"s":"AEISS","t":8.53,"v":15.8},{"s":"AEISS","t":8.57,"v":14.5},{"s":"AEISS","t":8.6,"v":14.5},{"s":"AEISS","t":8.64,"v":15.2},{"s":"AEISS","t":8.67,"v":29.5},{"s":"AEISS","t":8.7,"v":23.8},{"s":"AEISS","t":8.75,"v":22.3},{"s":"AEISS","t":8.85,"v":21.8},{"s":"AEISS","t":8.9,"v":21.5},{"s":"AEISS","t":8.96,"v":21.2},{"s":"AEISS","t":9,"v":22.3},{"s":"AEISS","t":9.05,"v":22.8},{"s":"AEISS","t":9.1,"v":21.5},{"s":"AEISS","t":9.19,"v":20},{"s":"AEISS","t":9.26,"v":19.3},{"s":"AEISS","t":9.33,"v":20.2},{"s":"AEISS","t":9.39,"v":23},{"s":"AEISS","t":9.42,"v":23.5},{"s":"AEISS","t":9.47,"v":22.3},{"s":"AEISS","t":9.53,"v":21.6},{"s":"AEISS","t":9.59,"v":21.2},{"s":"AEISS","t":9.65,"v":21.7},{"s":"AEISS","t":9.7,"v":22.5},{"s":"AEISS","t":9.76,"v":23.4},{"s":"AEISS","t":9.82,"v":22.8},{"s":"AEISS","t":9.87,"v":22.6},{"s":"AEISS","t":9.93,"v":22.7},{"s":"AEISS","t":10,"v":22.8},
{"s":"SSM-NAEC","t":0,"v":0.5},{"s":"SSM-NAEC","t":0.02,"v":12.5},{"s":"SSM-NAEC","t":0.07,"v":14},{"s":"SSM-NAEC","t":0.16,"v":16.8},{"s":"SSM-NAEC","t":0.25,"v":19.3},{"s":"SSM-NAEC","t":0.29,"v":19.5},{"s":"SSM-NAEC","t":0.33,"v":18.4},{"s":"SSM-NAEC","t":0.39,"v":19.5},{"s":"SSM-NAEC","t":0.45,"v":17},{"s":"SSM-NAEC","t":0.51,"v":16.2},{"s":"SSM-NAEC","t":0.6,"v":14.8},{"s":"SSM-NAEC","t":0.65,"v":14.5},{"s":"SSM-NAEC","t":0.74,"v":13.7},{"s":"SSM-NAEC","t":0.8,"v":14},{"s":"SSM-NAEC","t":0.86,"v":14.8},{"s":"SSM-NAEC","t":0.91,"v":12.6},{"s":"SSM-NAEC","t":0.97,"v":12.3},{"s":"SSM-NAEC","t":1.03,"v":12.9},{"s":"SSM-NAEC","t":1.09,"v":13.4},{"s":"SSM-NAEC","t":1.14,"v":15.1},{"s":"SSM-NAEC","t":1.23,"v":16.5},{"s":"SSM-NAEC","t":1.32,"v":17},{"s":"SSM-NAEC","t":1.4,"v":15.9},{"s":"SSM-NAEC","t":1.45,"v":15},{"s":"SSM-NAEC","t":1.48,"v":15},{"s":"SSM-NAEC","t":1.57,"v":14.9},{"s":"SSM-NAEC","t":1.63,"v":14.6},{"s":"SSM-NAEC","t":1.72,"v":14.6},{"s":"SSM-NAEC","t":1.8,"v":14},{"s":"SSM-NAEC","t":1.84,"v":9.3},{"s":"SSM-NAEC","t":1.89,"v":5.1},{"s":"SSM-NAEC","t":1.94,"v":2.4},{"s":"SSM-NAEC","t":1.99,"v":3.5},{"s":"SSM-NAEC","t":2.03,"v":7.9},{"s":"SSM-NAEC","t":2.06,"v":16.25},{"s":"SSM-NAEC","t":2.09,"v":17.9},{"s":"SSM-NAEC","t":2.14,"v":16.8},{"s":"SSM-NAEC","t":2.2,"v":16.25},{"s":"SSM-NAEC","t":2.26,"v":16.8},{"s":"SSM-NAEC","t":2.31,"v":16.25},{"s":"SSM-NAEC","t":2.34,"v":14.9},{"s":"SSM-NAEC","t":2.36,"v":7.9},{"s":"SSM-NAEC","t":2.39,"v":11.5},{"s":"SSM-NAEC","t":2.4,"v":15.7},{"s":"SSM-NAEC","t":2.49,"v":16.8},{"s":"SSM-NAEC","t":2.57,"v":17.4},{"s":"SSM-NAEC","t":2.66,"v":18.2},{"s":"SSM-NAEC","t":2.72,"v":17.4},{"s":"SSM-NAEC","t":2.77,"v":16.25},{"s":"SSM-NAEC","t":2.83,"v":15.1},{"s":"SSM-NAEC","t":2.9,"v":14.25},{"s":"SSM-NAEC","t":2.98,"v":14},{"s":"SSM-NAEC","t":3.04,"v":14.25},{"s":"SSM-NAEC","t":3.1,"v":15.1},{"s":"SSM-NAEC","t":3.16,"v":15.4},{"s":"SSM-NAEC","t":3.24,"v":15.5},{"s":"SSM-NAEC","t":3.3,"v":16.2},{"s":"SSM-NAEC","t":3.36,"v":15.1},{"s":"SSM-NAEC","t":3.44,"v":14.5},{"s":"SSM-NAEC","t":3.5,"v":14},{"s":"SSM-NAEC","t":3.54,"v":12},{"s":"SSM-NAEC","t":3.58,"v":11.75},{"s":"SSM-NAEC","t":3.64,"v":14},{"s":"SSM-NAEC","t":3.68,"v":15.4},{"s":"SSM-NAEC","t":3.76,"v":15.4},{"s":"SSM-NAEC","t":3.84,"v":14.8},{"s":"SSM-NAEC","t":3.9,"v":13.4},{"s":"SSM-NAEC","t":3.96,"v":11.5},{"s":"SSM-NAEC","t":4.01,"v":12.3},{"s":"SSM-NAEC","t":4.07,"v":14.5},{"s":"SSM-NAEC","t":4.13,"v":15.5},{"s":"SSM-NAEC","t":4.21,"v":15.4},{"s":"SSM-NAEC","t":4.29,"v":15.1},{"s":"SSM-NAEC","t":4.37,"v":15.3},{"s":"SSM-NAEC","t":4.45,"v":15},{"s":"SSM-NAEC","t":4.54,"v":14.5},{"s":"SSM-NAEC","t":4.6,"v":15.3},{"s":"SSM-NAEC","t":4.68,"v":15.9},{"s":"SSM-NAEC","t":4.74,"v":17.3},{"s":"SSM-NAEC","t":4.77,"v":17.6},{"s":"SSM-NAEC","t":4.79,"v":15.9},{"s":"SSM-NAEC","t":4.82,"v":11.7},{"s":"SSM-NAEC","t":4.84,"v":9.6},{"s":"SSM-NAEC","t":4.88,"v":10.6},{"s":"SSM-NAEC","t":4.93,"v":10.1},{"s":"SSM-NAEC","t":4.97,"v":8.7},{"s":"SSM-NAEC","t":5.03,"v":7.3},{"s":"SSM-NAEC","t":5.08,"v":8.1},{"s":"SSM-NAEC","t":5.14,"v":9.8},{"s":"SSM-NAEC","t":5.17,"v":15},{"s":"SSM-NAEC","t":5.2,"v":15.3},{"s":"SSM-NAEC","t":5.24,"v":13.9},{"s":"SSM-NAEC","t":5.27,"v":13.4},{"s":"SSM-NAEC","t":5.31,"v":15},{"s":"SSM-NAEC","t":5.37,"v":13.9},{"s":"SSM-NAEC","t":5.42,"v":15.6},{"s":"SSM-NAEC","t":5.48,"v":15.9},{"s":"SSM-NAEC","t":5.54,"v":15.6},{"s":"SSM-NAEC","t":5.6,"v":15.9},{"s":"SSM-NAEC","t":5.66,"v":15.6},{"s":"SSM-NAEC","t":5.69,"v":15.1},{"s":"SSM-NAEC","t":5.72,"v":13.4},{"s":"SSM-NAEC","t":5.76,"v":12.1},{"s":"SSM-NAEC","t":5.8,"v":15.1},{"s":"SSM-NAEC","t":5.84,"v":17.1},{"s":"SSM-NAEC","t":5.89,"v":16.8},{"s":"SSM-NAEC","t":5.95,"v":17.1},{"s":"SSM-NAEC","t":6.01,"v":16.8},{"s":"SSM-NAEC","t":6.07,"v":16.2},{"s":"SSM-NAEC","t":6.11,"v":15.1},{"s":"SSM-NAEC","t":6.15,"v":13.4},{"s":"SSM-NAEC","t":6.2,"v":12.6},{"s":"SSM-NAEC","t":6.24,"v":13.4},{"s":"SSM-NAEC","t":6.28,"v":15.1},{"s":"SSM-NAEC","t":6.33,"v":15.9},{"s":"SSM-NAEC","t":6.41,"v":16.2},{"s":"SSM-NAEC","t":6.47,"v":17.3},{"s":"SSM-NAEC","t":6.52,"v":18.2},{"s":"SSM-NAEC","t":6.55,"v":14.8},{"s":"SSM-NAEC","t":6.57,"v":11.8},{"s":"SSM-NAEC","t":6.61,"v":17.3},{"s":"SSM-NAEC","t":6.67,"v":17.9},{"s":"SSM-NAEC","t":6.72,"v":18.2},{"s":"SSM-NAEC","t":6.78,"v":17.9},{"s":"SSM-NAEC","t":6.84,"v":16.8},{"s":"SSM-NAEC","t":6.9,"v":15.7},{"s":"SSM-NAEC","t":6.94,"v":14.3},{"s":"SSM-NAEC","t":6.98,"v":14.8},{"s":"SSM-NAEC","t":7.04,"v":15.7},{"s":"SSM-NAEC","t":7.1,"v":16.8},{"s":"SSM-NAEC","t":7.15,"v":17.6},{"s":"SSM-NAEC","t":7.2,"v":17.3},{"s":"SSM-NAEC","t":7.25,"v":16.5},{"s":"SSM-NAEC","t":7.31,"v":15.9},{"s":"SSM-NAEC","t":7.34,"v":13.4},{"s":"SSM-NAEC","t":7.36,"v":11.8},{"s":"SSM-NAEC","t":7.38,"v":13.4},{"s":"SSM-NAEC","t":7.42,"v":15.1},{"s":"SSM-NAEC","t":7.48,"v":15.9},{"s":"SSM-NAEC","t":7.55,"v":16.5},{"s":"SSM-NAEC","t":7.62,"v":17.1},{"s":"SSM-NAEC","t":7.68,"v":17.3},{"s":"SSM-NAEC","t":7.73,"v":16.5},{"s":"SSM-NAEC","t":7.76,"v":14.6},{"s":"SSM-NAEC","t":7.81,"v":13.7},{"s":"SSM-NAEC","t":7.87,"v":14},{"s":"SSM-NAEC","t":7.92,"v":14.8},{"s":"SSM-NAEC","t":7.96,"v":15.9},{"s":"SSM-NAEC","t":8.02,"v":16.5},{"s":"SSM-NAEC","t":8.08,"v":17.1},{"s":"SSM-NAEC","t":8.12,"v":15.7},{"s":"SSM-NAEC","t":8.17,"v":15.1},{"s":"SSM-NAEC","t":8.23,"v":14.8},{"s":"SSM-NAEC","t":8.28,"v":14.6},{"s":"SSM-NAEC","t":8.33,"v":13.7},{"s":"SSM-NAEC","t":8.37,"v":14},{"s":"SSM-NAEC","t":8.42,"v":14.3},{"s":"SSM-NAEC","t":8.46,"v":12.1},{"s":"SSM-NAEC","t":8.49,"v":7.9},{"s":"SSM-NAEC","t":8.55,"v":7.3},{"s":"SSM-NAEC","t":8.61,"v":6.2},{"s":"SSM-NAEC","t":8.64,"v":6.5},{"s":"SSM-NAEC","t":8.66,"v":5.1},{"s":"SSM-NAEC","t":8.68,"v":16.8},{"s":"SSM-NAEC","t":8.74,"v":14.6},{"s":"SSM-NAEC","t":8.82,"v":15.1},{"s":"SSM-NAEC","t":8.9,"v":15.4},{"s":"SSM-NAEC","t":8.96,"v":15.7},{"s":"SSM-NAEC","t":9.01,"v":17.1},{"s":"SSM-NAEC","t":9.08,"v":17.6},{"s":"SSM-NAEC","t":9.17,"v":17.3},{"s":"SSM-NAEC","t":9.23,"v":16.2},{"s":"SSM-NAEC","t":9.27,"v":15.1},{"s":"SSM-NAEC","t":9.32,"v":15.9},{"s":"SSM-NAEC","t":9.38,"v":16.8},{"s":"SSM-NAEC","t":9.45,"v":16.8},{"s":"SSM-NAEC","t":9.51,"v":17.1},{"s":"SSM-NAEC","t":9.57,"v":15.9},{"s":"SSM-NAEC","t":9.63,"v":16.5},{"s":"SSM-NAEC","t":9.68,"v":17.1},{"s":"SSM-NAEC","t":9.74,"v":16.9},{"s":"SSM-NAEC","t":9.8,"v":16.5},{"s":"SSM-NAEC","t":9.83,"v":15.4},{"s":"SSM-NAEC","t":9.85,"v":16.5},{"s":"SSM-NAEC","t":9.92,"v":16.4},{"s":"SSM-NAEC","t":10,"v":16.4}
]},
"mark":{"type":"line","strokeWidth":1.5,"strokeDash":[5.5,2.4],"clip":true},
"encoding":{
"x":{"field":"t","type":"quantitative","scale":{"domain":[0,10],"nice":false},"axis":{"title":"Time (s)","values":[0,1,2,3,4,5,6,7,8,9,10],"format":"d","labelPadding":6,"titlePadding":8}},
"y":{"field":"v","type":"quantitative","scale":{"domain":[0,40],"nice":false},"axis":{"title":"ERLE (dB)","values":[5,10,15,20,25,30,35,40],"format":"d","labelPadding":12,"titlePadding":6}},
"color":{"field":"s","type":"nominal","sort":null,"scale":{"domain":["IP","EISS","AIP","AEISS","SSM-NAEC"],"range":["#0000ff","#008000","#ff0000","#ff8c00","#6e6e6e"]},"legend":{"title":null}}
},
"config":{
"view":{"stroke":"black","strokeWidth":1.2},
"axis":{"labelFont":"Liberation Serif","titleFont":"Liberation Serif","labelFontSize":19,"titleFontSize":20,"titleFontWeight":"normal","labelColor":"black","titleColor":"black","gridColor":"#b0b0b0","gridWidth":1,"domainColor":"black","domainWidth":1.2,"ticks":false,"labelFlush":false},
"legend":{"orient":"top-left","offset":8,"labelFont":"Liberation Serif","labelFontSize":17,"labelColor":"black","symbolType":"stroke","symbolStrokeWidth":1.5,"symbolDash":[5.5,2.4],"symbolSize":1000,"fillColor":"rgba(255,255,255,0.8)","strokeColor":"#cccccc","cornerRadius":4,"padding":5,"rowPadding":5,"labelOffset":13,"clipHeight":20}
}
}
